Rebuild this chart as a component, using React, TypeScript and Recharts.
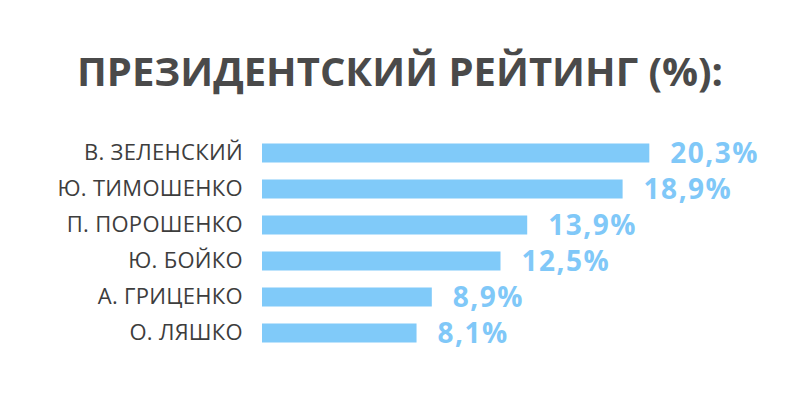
import { BarChart, Bar, XAxis, YAxis, LabelList } from "recharts";

const candidates = [
  "В. ЗЕЛЕНСКИЙ",
  "Ю. ТИМОШЕНКО",
  "П. ПОРОШЕНКО",
  "Ю. БОЙКО",
  "А. ГРИЦЕНКО",
  "О. ЛЯШКО",
];
const rating = [20.3, 18.9, 13.9, 12.5, 8.9, 8.1];

const data = candidates.map((name, i) => ({ name, rating: rating[i] }));

const formatValue = (v: any) => String(v).replace(".", ",") + "%";

const font = "'Open Sans', sans-serif";

const App = () => {
  return (
    <div style={{ position: "absolute", left: 0, top: 0, width: 800, height: 400, background: "#fff" }}>
      <svg width={800} height={400} style={{ position: "absolute", left: 0, top: 0 }}>
        <text
          x={400}
          y={86}
          textAnchor="middle"
          fontFamily={font}
          fontWeight={700}
          fontSize={40}
          fill="#4a4a4a"
        >
          ПРЕЗИДЕНТСКИЙ РЕЙТИНГ (%):
        </text>
      </svg>
      <div style={{ position: "absolute", left: 0, top: 0 }}>
        <BarChart
          width={800}
          height={400}
          data={data}
          layout="vertical"
          margin={{ top: 134.5, right: 61, bottom: 49.5, left: 0 }}
        >
          <XAxis type="number" domain={[0, 25]} hide />
          <YAxis
            type="category"
            dataKey="name"
            width={262}
            axisLine={false}
            tickLine={false}
            tickSize={0}
            tickMargin={19}
            tick={{ fill: "#3d3d3d", fontSize: 22, fontFamily: font, letterSpacing: 0.3 }}
          />
          <Bar dataKey="rating" fill="#80caf9" barSize={19} isAnimationActive={false}>
            <LabelList
              dataKey="rating"
              position="right"
              offset={21}
              formatter={formatValue}
              fill="#80c8f8"
              fontSize={28}
              fontWeight={700}
              fontFamily={font}
              letterSpacing={1.5}
            />
          </Bar>
        </BarChart>
      </div>
    </div>
  );
};

export default App;
